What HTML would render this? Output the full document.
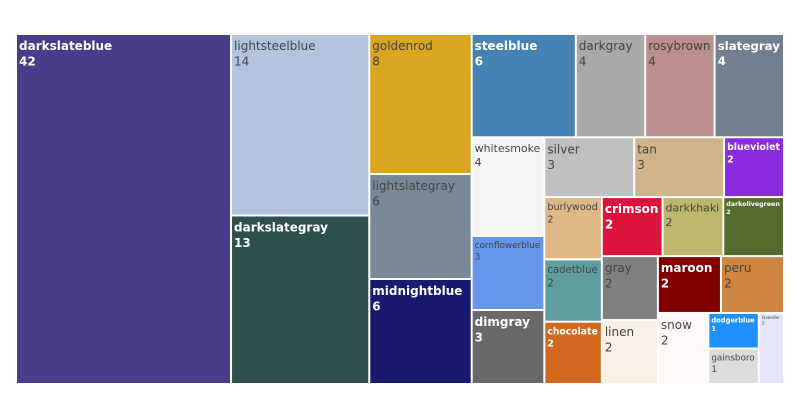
<!DOCTYPE html>
<html><head><meta charset="utf-8"><style>
html,body{margin:0;padding:0;background:#fff;width:800px;height:400px;overflow:hidden}
svg text{font-family:"DejaVu Sans","Liberation Sans",sans-serif}
</style></head><body>
<svg id="chart" width="800" height="400" xmlns="http://www.w3.org/2000/svg"></svg>
<script>
const labels = ["darkslateblue","lightsteelblue","darkslategray","goldenrod","lightslategray","midnightblue","steelblue","darkgray","rosybrown","slategray","whitesmoke","cornflowerblue","dimgray","silver","tan","blueviolet","burlywood","cadetblue","chocolate","crimson","darkkhaki","darkolivegreen","gray","linen","maroon","peru","snow","dodgerblue","gainsboro","lavender"];
const values = [42,14,13,8,6,6,6,4,4,4,4,3,3,3,3,2,2,2,2,2,2,2,2,2,2,2,2,1,1,1];

const X0=16, Y0=34, X1=784, Y1=384, RATIO=1;
const svg=document.getElementById('chart');
const NS='http://www.w3.org/2000/svg';
const nodes=labels.map((l,i)=>({label:l,value:values[i]}));

function dice(nodes,total,x0,y0,x1,y1){let k=total?(x1-x0)/total:0;for(const n of nodes){n.y0=y0;n.y1=y1;n.x0=x0;n.x1=x0+=n.value*k;}}
function slice(nodes,total,x0,y0,x1,y1){let k=total?(y1-y0)/total:0;for(const n of nodes){n.x0=x0;n.x1=x1;n.y0=y0;n.y1=y0+=n.value*k;}}
function squarify(nodes,x0,y0,x1,y1){
  let i0=0,i1=0,n=nodes.length,value=nodes.reduce((a,b)=>a+b.value,0);
  while(i0<n){
    let dx=x1-x0,dy=y1-y0,sumValue;
    do sumValue=nodes[i1++].value; while(!sumValue&&i1<n);
    let minV=sumValue,maxV=sumValue;
    let alpha=Math.max(dy/dx,dx/dy)/(value*RATIO);
    let beta=sumValue*sumValue*alpha;
    let minRatio=Math.max(maxV/beta,beta/minV);
    for(;i1<n;++i1){
      let nv=nodes[i1].value;sumValue+=nv;
      if(nv<minV)minV=nv;if(nv>maxV)maxV=nv;
      beta=sumValue*sumValue*alpha;
      let nr=Math.max(maxV/beta,beta/minV);
      if(nr>minRatio){sumValue-=nv;break;}
      minRatio=nr;
    }
    const row=nodes.slice(i0,i1);
    if(dx<dy){dice(row,sumValue,x0,y0,x1,dy?y0+=dy*sumValue/value:y1);}
    else{slice(row,sumValue,x0,y0,dx?x0+=dx*sumValue/value:x1,y1);}
    value-=sumValue;i0=i1;
  }
}
squarify(nodes,X0,Y0,X1,Y1);

const cv=document.createElement('canvas').getContext('2d');
function textW(t,s,b){cv.font=(b?'bold ':'')+s+'px "DejaVu Sans"';return cv.measureText(t).width;}
function isDark(c){
  cv.fillStyle=c;const h=cv.fillStyle;
  const r=parseInt(h.slice(1,3),16),g=parseInt(h.slice(3,5),16),b=parseInt(h.slice(5,7),16);
  return (0.299*r+0.587*g+0.114*b)<127.9;
}
nodes.forEach(n=>{
  const g=document.createElementNS(NS,'g');
  
  
  const r=document.createElementNS(NS,'rect');
  r.setAttribute('x',n.x0+1);r.setAttribute('y',n.y0+1);
  r.setAttribute('width',Math.max(0,n.x1-n.x0-2));r.setAttribute('height',Math.max(0,n.y1-n.y0-2));
  r.setAttribute('fill',n.label);
  
  
  g.appendChild(r);
  const dark=isDark(n.label);
  const col=dark?'#fff':'#444';
  const w=n.x1-n.x0-7;
  let fs=12;const tw=textW(n.label,12,dark);
  if(tw>w)fs=12*w/tw;
  const t=document.createElementNS(NS,'text');
  t.setAttribute('x',n.x0+3);t.setAttribute('y',n.y0+1+fs*1.25);
  t.setAttribute('font-size',fs);t.setAttribute('fill',col);
  if(dark)t.setAttribute('font-weight','bold');
  
  
  const s1=document.createElementNS(NS,'tspan');s1.setAttribute('x',n.x0+3);s1.textContent=n.label;
  const s2=document.createElementNS(NS,'tspan');s2.setAttribute('x',n.x0+3);s2.setAttribute('dy',fs*1.3);s2.textContent=n.value;
  t.appendChild(s1);t.appendChild(s2);
  g.appendChild(t);
  svg.appendChild(g);
});
</script>
</body></html>
